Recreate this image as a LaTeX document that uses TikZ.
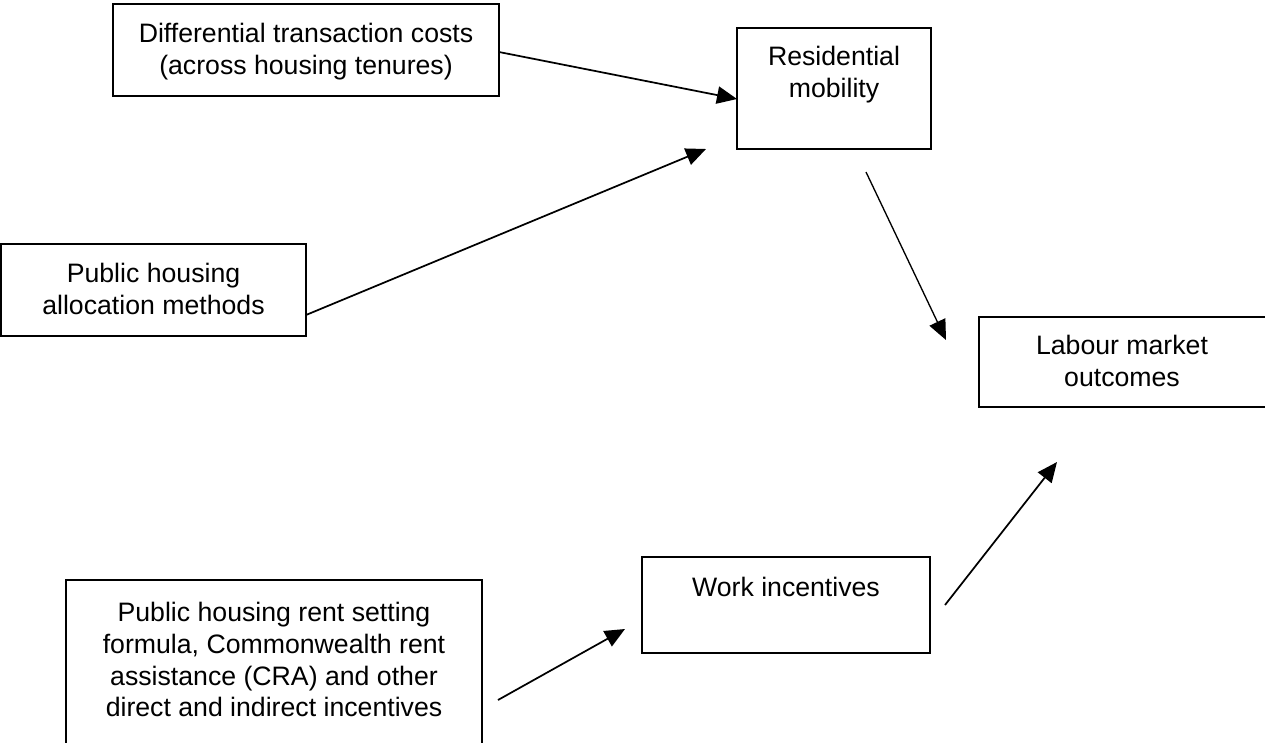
\documentclass[tikz,border=0pt]{standalone}
\usepackage{fontspec}
\setmainfont{Liberation Sans}
\usetikzlibrary{arrows.meta}
\tikzset{
  box/.style={draw=black, line width=1.4pt, rectangle, inner sep=0pt, fill=none},
  txt/.style={anchor=north, inner sep=0pt, align=center, font=\fontsize{20}{23.8}\selectfont},
  arr/.style={line width=1.3pt, -{Triangle[length=15pt, width=13pt]}},
  arrthin/.style={line width=1pt, -{Triangle[length=15pt, width=13pt]}}
}
\begin{document}
\begin{tikzpicture}[x=0.75pt, y=-0.75pt]
\useasboundingbox (0,0) rectangle (1265,743);
\clip (0,0) rectangle (1265,743);
\fill[white] (0,0) rectangle (1265,743);

% boxes
\node[box, minimum width=289.5pt, minimum height=69pt] (diff) at (306,50) {};
\node[box, minimum width=145.5pt, minimum height=90.75pt] (resid) at (834,88.5) {};
\node[box, minimum width=228.75pt, minimum height=69pt] (alloc) at (153.5,290) {};
\node[box, minimum width=217.5pt, minimum height=67.5pt] (labour) at (1124,362) {};
\node[box, minimum width=216pt, minimum height=72pt] (work) at (786,605) {};
\node[box, minimum width=312pt, minimum height=135pt] (rent) at (274,670) {};

% texts
\node[txt] (diff-t) at (306,23) {Differential transaction costs\\(across housing tenures)};
\node[txt] (resid-t) at (834,46) {Residential\\mobility};
\node[txt] (alloc-t) at (153.5,263) {Public housing\\allocation methods};
\node[txt] (labour-t) at (1122,335) {Labour market\\outcomes};
\node[txt] (work-t) at (786,577) {Work incentives};
\node[txt] (rent-t) at (274,602) {Public housing rent setting\\formula, Commonwealth rent\\assistance (CRA) and other\\direct and indirect incentives};

% connector end points
\coordinate (a1s) at (499,52);
\coordinate (a1e) at (737,99);
\coordinate (a2s) at (306,315);
\coordinate (a2e) at (706,149);
\coordinate (a3s) at (866,172);
\coordinate (a3e) at (946,340);
\coordinate (a4s) at (945,605);
\coordinate (a4e) at (1057,462);
\coordinate (a5s) at (498,700);
\coordinate (a5e) at (625,629);

\draw[arr] (a1s) -- (a1e);
\draw[arr] (a2s) -- (a2e);
\draw[arrthin] (a3s) -- (a3e);
\draw[arr] (a4s) -- (a4e);
\draw[arr] (a5s) -- (a5e);
\end{tikzpicture}
\end{document}
